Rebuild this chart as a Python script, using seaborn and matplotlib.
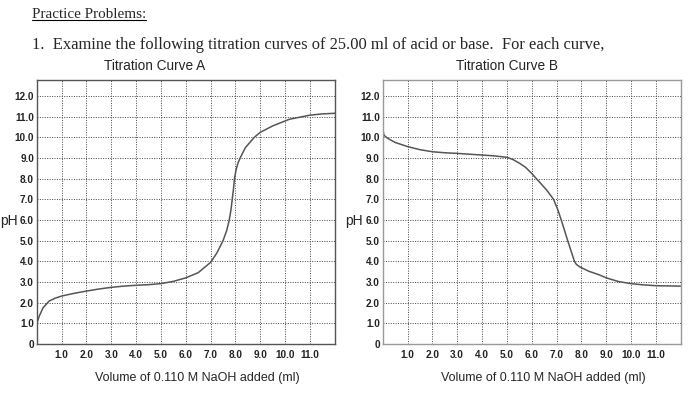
import matplotlib
matplotlib.use("Agg")
import matplotlib.pyplot as plt
import seaborn as sns

# curve A: weak acid titrated with NaOH
vol_a = [0, 0.1, 0.25, 0.5, 0.75, 1.0, 1.5, 2.0, 2.5, 3.0, 3.5, 4.0, 4.5, 5.0, 5.5,
         6.0, 6.5, 7.0, 7.25, 7.5, 7.65, 7.75, 7.82, 7.87, 7.92, 7.96, 8.02, 8.1, 8.19, 8.4,
         8.76, 9.0, 9.5, 10.17, 11.0, 11.5, 12.0]
ph_a = [1.0, 1.35, 1.75, 2.08, 2.22, 2.32, 2.45, 2.56, 2.66, 2.74, 2.8, 2.84, 2.87, 2.92, 3.03,
        3.2, 3.45, 3.95, 4.4, 5.0, 5.5, 6.0, 6.5, 7.0, 7.5, 8.0, 8.4, 8.75, 9.0, 9.5,
        10.0, 10.24, 10.55, 10.87, 11.07, 11.13, 11.16]

# curve B
vol_b = [0, 0.05, 0.2, 0.5, 1.0, 1.5, 2.0, 2.5, 3.0, 3.5, 4.0, 4.5, 5.0, 5.25, 5.5,
         5.75, 6.0, 6.3, 6.6, 6.88, 7.05, 7.19, 7.45, 7.72, 7.8, 7.92, 8.3, 8.73, 9.0,
         9.5, 10.0, 10.5, 11.0, 12.0]
ph_b = [10.43, 10.1, 9.95, 9.75, 9.55, 9.4, 9.3, 9.25, 9.22, 9.18, 9.14, 9.1, 9.03, 8.92, 8.75,
        8.55, 8.25, 7.85, 7.45, 7.0, 6.5, 6.0, 5.0, 4.0, 3.85, 3.74, 3.52, 3.34, 3.2,
        3.02, 2.92, 2.86, 2.82, 2.8]

x_ticks = [1, 2, 3, 4, 5, 6, 7, 8, 9, 10, 11]
x_labels = ["1.0", "2.0", "3.0", "4.0", "5.0", "6.0", "7.0", "8.0", "9.0", "10.0", "11.0"]
y_ticks = [0, 1, 2, 3, 4, 5, 6, 7, 8, 9, 10, 11, 12]
y_labels = ["0", "1.0", "2.0", "3.0", "4.0", "5.0", "6.0", "7.0", "8.0", "9.0", "10.0", "11.0", "12.0"]

sns.set_style("white")
plt.rcParams["font.family"] = ["Liberation Sans", "DejaVu Sans"]

fig = plt.figure(figsize=(7, 3.95), dpi=100)

# 문서 머리글
fig.text(32 / 700, 1 - 14 / 395, "Practice Problems:", family="Liberation Serif",
         fontsize=10.9, va="center", ha="left")
fig.add_artist(plt.Line2D([32 / 700, 146 / 700], [1 - 20 / 395, 1 - 20 / 395],
                          color="black", lw=0.8))
fig.text(32 / 700, 1 - 45 / 395,
         "1.  Examine the following titration curves of 25.00 ml of acid or base.  For each curve,",
         family="Liberation Serif", fontsize=11.9, va="center", ha="left")

panels = [
    (vol_a, ph_a, 36.8, "#555555", "Titration Curve A", 155, 9),
    (vol_b, ph_b, 382.7, "#999999", "Titration Curve B", 507, 354),
]

for vol, ph, left_px, spine_col, title, title_x, ph_x in panels:
    ax = fig.add_axes([left_px / 700, (395 - 344) / 395, 298 / 700, 264 / 395])
    sns.lineplot(x=vol, y=ph, ax=ax, color="#555555", lw=1.1, sort=False, estimator=None)
    ax.set_xlim(0, 12)
    ax.set_ylim(0, 12.77)
    ax.set_xticks(x_ticks)
    ax.set_xticklabels(x_labels)
    ax.set_yticks(y_ticks)
    ax.set_yticklabels(y_labels)
    ax.tick_params(length=0, labelsize=7.2, pad=2, labelcolor="#222222")
    ax.tick_params(axis="x", pad=4)
    for lab in ax.get_xticklabels() + ax.get_yticklabels():
        lab.set_fontweight("bold")
    ax.grid(True, linestyle=(0, (1, 1.5)), color="#444444", lw=0.7)
    for sp in ax.spines.values():
        sp.set_color(spine_col)
        sp.set_linewidth(1.0)
    ax.set_xlabel("Volume of 0.110 M NaOH added (ml)", fontsize=9, labelpad=6)
    ax.xaxis.set_label_coords(0.54, -0.105)
    ax.set_ylabel("")
    fig.text(title_x / 700, 1 - 66 / 395, title, fontsize=9.8, ha="center", va="center")
    fig.text(ph_x / 700, 1 - 221 / 395, "pH", fontsize=10, ha="center", va="center")

fig.savefig("out.png", dpi=100)
